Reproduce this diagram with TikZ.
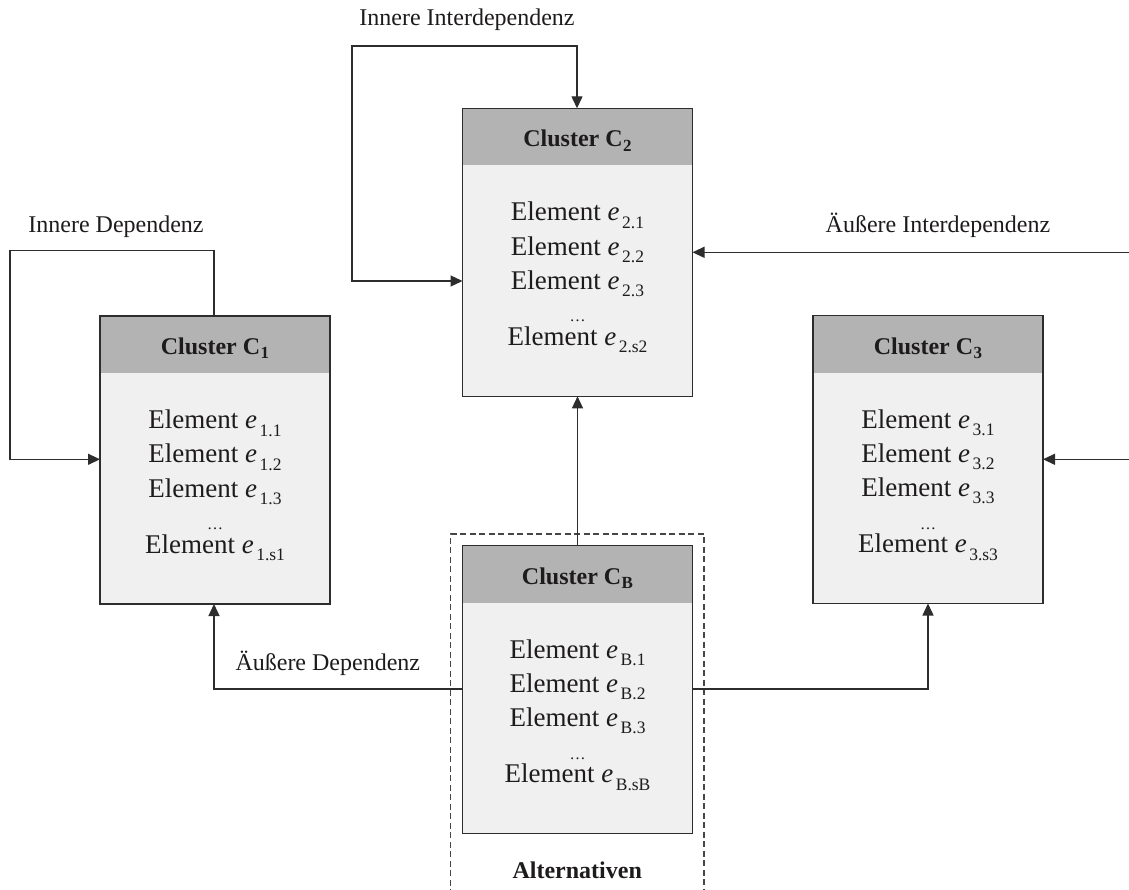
\documentclass[tikz,border=0pt]{standalone}
\usepackage{fontspec}
\setmainfont{Liberation Serif}
\usetikzlibrary{arrows.meta}

\definecolor{edgegray}{RGB}{45,45,45}
\definecolor{headgray}{RGB}{179,179,179}
\definecolor{bodygray}{RGB}{240,240,240}
\definecolor{inkcol}{RGB}{30,27,28}
\definecolor{dashgray}{RGB}{70,70,70}

% subscript of an element symbol e
\newcommand\elem[1]{\textit{e}\kern2.5pt\raisebox{-7.3pt}{\fontsize{17.5}{17.5}\selectfont #1}}
% subscript of a cluster title
\newcommand\hsub[1]{\kern0.5pt\raisebox{-4.5pt}{\fontsize{17}{17}\selectfont\bfseries #1}}

\tikzset{
  clusterbox/.style={fill=bodygray, minimum width=230pt, minimum height=288pt,
    inner sep=0pt, outer sep=0pt},
  headbox/.style={fill=headgray, minimum width=228.7pt, minimum height=56.4pt,
    anchor=north, inner sep=0pt, outer sep=0pt},
  frameline/.style={draw=edgegray, line width=1.3pt},
  headtext/.style={anchor=base, inner sep=0pt, text=inkcol,
    font=\fontsize{24}{28}\selectfont\bfseries},
  elemtext/.style={anchor=base, inner sep=0pt, text=inkcol,
    font=\fontsize{27}{30}\selectfont},
  dotstext/.style={anchor=base, inner sep=0pt, text=inkcol,
    font=\fontsize{16}{16}\selectfont},
  labeltext/.style={anchor=base, inner sep=0pt, text=inkcol,
    font=\fontsize{24}{28}\selectfont},
  conn/.style={draw=edgegray, line width=1.3pt},
  tip/.style={-{Triangle[length=12pt,width=11pt]}},
  tips/.style={{Triangle[length=12pt,width=11pt]}-{Triangle[length=12pt,width=11pt]}},
  altframe/.style={draw=dashgray, line width=1.3pt, dash pattern=on 6pt off 3.5pt},
}

% one cluster: #1 name, #2 centre, #3 index, #4 last element index
\newcommand\drawcluster[4]{%
  \node[clusterbox] (#1) at (#2) {};
  \node[headbox] (#1-head) at ([yshift=-0.65pt]#1.north) {};
  \draw[frameline] (#1.north west) rectangle (#1.south east);
  \node[headtext] (#1-title) at ([yshift=-38.5pt]#1.north) {Cluster C\hsub{#3}};
  \node[elemtext] (#1-e1) at ([yshift=-112.7pt]#1.north) {Element \elem{#3.1}};
  \node[elemtext] (#1-e2) at ([yshift=-146.9pt]#1.north) {Element \elem{#3.2}};
  \node[elemtext] (#1-e3) at ([yshift=-181pt]#1.north) {Element \elem{#3.3}};
  \node[dotstext] (#1-dots) at ([yshift=-213.5pt]#1.north) {\ldots};
  \node[elemtext] (#1-en) at ([yshift=-237.2pt]#1.north) {Element \elem{#3.#4}};
}

\begin{document}
\begin{tikzpicture}[x=1pt, y=-1pt]
  \useasboundingbox (0,0) rectangle (1129,890);

  % dashed frame of the alternatives (open at the bottom)
  \coordinate (alt-bl) at (450.7,895);
  \coordinate (alt-tl) at (450.7,534);
  \coordinate (alt-tr) at (704,534);
  \coordinate (alt-br) at (704,895);
  \draw[altframe] (alt-bl) -- (alt-tl) -- (alt-tr) -- (alt-br);

  % clusters
  \drawcluster{c1}{215,460}{1}{s1}
  \drawcluster{c2}{577.5,252.3}{2}{s2}
  \drawcluster{c3}{928,459.5}{3}{s3}
  \drawcluster{cb}{577.5,689.5}{B}{sB}

  \node[labeltext] (alt-label) at (577.2,878.3) {\bfseries Alternativen};

  % inner dependence of C1
  \coordinate (l1a) at (214,250.7);
  \coordinate (l1b) at (10,250.7);
  \coordinate (l1c) at (10,459.3);
  \draw[conn, tip] (c1.north -| l1a) -- (l1a) -- (l1b) -- (l1c) -- (l1c -| c1.west);
  \node[labeltext] (lab-id) at (116,232.3) {Innere Dependenz};

  % inner interdependence of C2
  \coordinate (l2a) at (352,281);
  \coordinate (l2b) at (352,46);
  \coordinate (l2c) at (577,46);
  \draw[conn, tips] (l2a -| c2.west) -- (l2a) -- (l2b) -- (l2c) -- (l2c |- c2.north);
  \node[labeltext] (lab-ii) at (467,26) {Innere Interdependenz};

  % outer interdependence from the right
  \coordinate (r2) at (1129,252.3);
  \draw[conn, tip] (r2) -- (r2 -| c2.east);
  \node[labeltext] (lab-ai) at (938,232.3) {Äußere Interdependenz};
  \coordinate (r3) at (1129,459.3);
  \draw[conn, tip] (r3) -- (r3 -| c3.east);

  % outer dependences of the alternatives
  \draw[conn, tip] (cb.north) -- (c2.south);
  \coordinate (b1) at (214,689);
  \draw[conn, tip] (cb.west |- b1) -- (b1) -- (b1 |- c1.south);
  \node[labeltext] (lab-ad) at (327.8,670.7) {Äußere Dependenz};
  \coordinate (b3) at (928,689);
  \draw[conn, tip] (cb.east |- b3) -- (b3) -- (b3 |- c3.south);
\end{tikzpicture}
\end{document}
